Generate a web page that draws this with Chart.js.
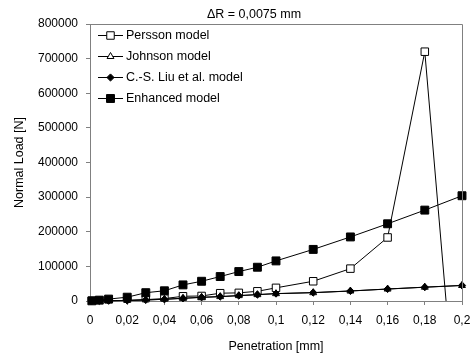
<!DOCTYPE html>
<html lang="en">
<head>
  <meta charset="UTF-8">
  <title>Normal Load vs Penetration</title>
  <script src="https://cdn.jsdelivr.net/npm/chart.js@4/dist/chart.umd.min.js"></script>
  <style>
    body { margin: 0; background: #fff; }
  </style>
</head>
<body>
  <canvas id="loadChart" width="470" height="356"></canvas>

  <script>
    // penetration steps [mm]
    const penetration = [0.001, 0.005, 0.01, 0.02, 0.03, 0.04, 0.05, 0.06, 0.07, 0.08, 0.09, 0.1, 0.12, 0.14, 0.16, 0.18, 0.2];

    // normal load [N] per model
    const persson = [200, 500, 1000, 1500, 4000, 7000, 13600, 14500, 22500, 23500, 28000, 38000, 57000, 93500, 183500, 720000, -540000];
    const johnson = [300, 400, 800, 1600, 3100, 5000, 7800, 10500, 12600, 15500, 18300, 21200, 24000, 28800, 34500, 39800, 44800];
    const liu = [100, 300, 700, 1500, 3000, 4900, 7800, 10700, 12700, 15600, 18500, 21400, 24300, 29000, 34700, 40000, 45000];
    const enhanced = [500, 2500, 5500, 11000, 24000, 29500, 46500, 57000, 70600, 85000, 97500, 115800, 149000, 185000, 223000, 262500, 304000];

    const seriesNames = ['Persson model', 'Johnson model', 'C.-S. Liu et al. model', 'Enhanced model'];
    const chartTitle = '\u0394R = 0,0075 mm';

    const FONT = 'Liberation Sans, Arial, sans-serif';
    const AXIS_GREY = '#808080';

    function toPoints(values) {
      return values.map((v, i) => ({ x: penetration[i], y: v }));
    }

    const markerStyles = [
      { pointStyle: 'rect', radius: 5.3, fill: '#ffffff' },
      { pointStyle: 'triangle', radius: 4, fill: '#ffffff' },
      { pointStyle: 'rectRot', radius: 3.6, fill: '#000000' },
      { pointStyle: 'rect', radius: 5.6, fill: '#000000' }
    ];

    const datasets = [persson, johnson, liu, enhanced].map((values, i) => ({
      label: seriesNames[i],
      data: toPoints(values),
      borderColor: '#000',
      borderWidth: 1,
      backgroundColor: markerStyles[i].fill,
      pointStyle: markerStyles[i].pointStyle,
      pointRadius: markerStyles[i].radius,
      pointBorderColor: '#000',
      pointBorderWidth: 1,
      pointBackgroundColor: markerStyles[i].fill,
      tension: 0,
      // later series sit on top, like the spreadsheet draws them
      order: 3 - i,
      clip: { left: 10, right: 10, top: 10, bottom: i === 0 ? 0 : 10 }
    }));

    // title, plot frame and in-plot legend
    const annotations = {
      id: 'annotations',
      afterDraw(chart) {
        const ctx = chart.ctx;
        const area = chart.chartArea;
        ctx.save();

        ctx.strokeStyle = AXIS_GREY;
        ctx.lineWidth = 1;
        ctx.beginPath();
        ctx.moveTo(Math.round(area.left) + 0.5, Math.round(area.top) + 0.5);
        ctx.lineTo(Math.round(area.right) + 0.5, Math.round(area.top) + 0.5);
        ctx.lineTo(Math.round(area.right) + 0.5, Math.round(area.bottom) + 0.5);
        ctx.stroke();

        ctx.fillStyle = '#000';
        ctx.font = '12.5px ' + FONT;
        ctx.textAlign = 'center';
        ctx.textBaseline = 'middle';
        ctx.fillText(chartTitle, 254, 15);

        const rowY = [35, 56, 77, 98];
        ctx.textAlign = 'left';
        seriesNames.forEach((name, i) => {
          const y = rowY[i];
          ctx.strokeStyle = '#000';
          ctx.beginPath();
          ctx.moveTo(98, y + 0.5);
          ctx.lineTo(123, y + 0.5);
          ctx.stroke();
          ctx.fillStyle = markerStyles[i].fill;
          ctx.strokeStyle = '#000';
          Chart.helpers.drawPoint(ctx, {
            pointStyle: markerStyles[i].pointStyle,
            radius: markerStyles[i].radius,
            borderWidth: 1,
            rotation: 0
          }, 110.5, y + 0.5);
          ctx.fillStyle = '#000';
          ctx.fillText(name, 126, y + 1);
        });
        ctx.restore();
      }
    };

    const ctx = document.getElementById('loadChart').getContext('2d');
    new Chart(ctx, {
      type: 'line',
      data: { datasets },
      options: {
        responsive: false,
        animation: false,
        devicePixelRatio: 1,
        events: [],
        layout: { padding: { top: 24, right: 8, left: 0, bottom: 0 } },
        plugins: {
          legend: { display: false },
          title: { display: false },
          tooltip: { enabled: false }
        },
        scales: {
          x: {
            type: 'linear',
            min: 0,
            max: 0.2,
            afterFit(scale) {
              scale.height = 55;
              // let the last label run to the canvas edge
              scale.paddingLeft = 0;
              scale.paddingRight = 0;
            },
            ticks: {
              stepSize: 0.02,
              color: '#000',
              padding: 8,
              maxRotation: 0,
              font: { family: FONT, size: 12 },
              callback: v => String(Number(v.toFixed(3))).replace('.', ',')
            },
            grid: { drawOnChartArea: false, tickLength: 4, color: AXIS_GREY },
            border: { color: AXIS_GREY, width: 1 },
            title: {
              display: true,
              text: 'Penetration [mm]',
              color: '#000',
              padding: { top: 0, bottom: 2 },
              font: { family: FONT, size: 12.5 }
            }
          },
          y: {
            type: 'linear',
            min: 0,
            max: 800000,
            afterFit(scale) { scale.width = 90; },
            ticks: {
              stepSize: 100000,
              color: '#000',
              padding: 8,
              font: { family: FONT, size: 12 },
              callback: v => String(v)
            },
            grid: { drawOnChartArea: false, tickLength: 4, color: AXIS_GREY },
            border: { color: AXIS_GREY, width: 1 },
            title: {
              display: true,
              text: 'Normal Load [N]',
              color: '#000',
              padding: { top: 12, bottom: 0 },
              font: { family: FONT, size: 12.5 }
            }
          }
        }
      },
      plugins: [annotations]
    });
  </script>
</body>
</html>
